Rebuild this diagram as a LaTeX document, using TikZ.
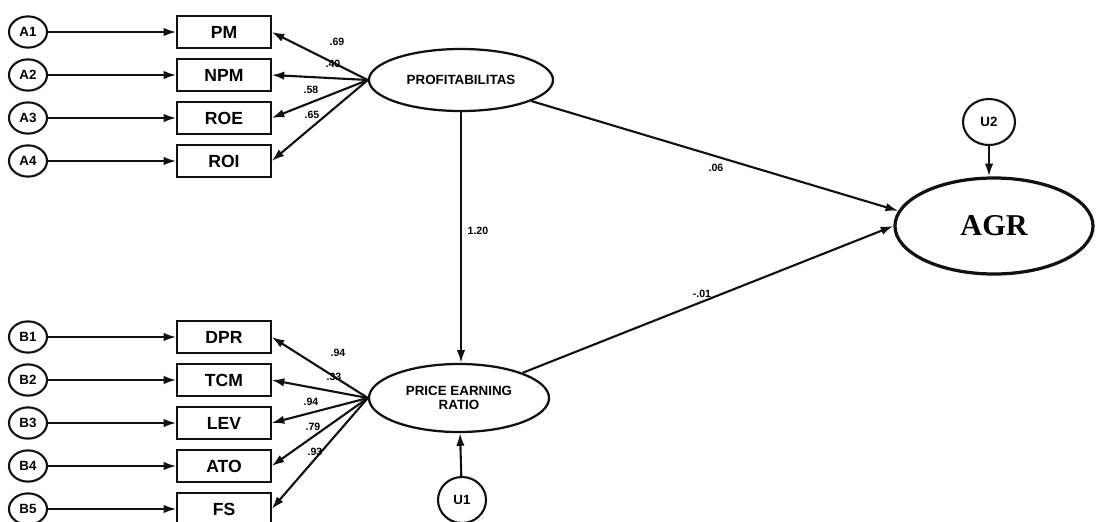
\documentclass[tikz,border=0pt]{standalone}
\usepackage{fontspec}
\setmainfont{Liberation Serif}
\setsansfont{Liberation Sans}
\usepackage{tikz}
\usetikzlibrary{shapes.geometric, arrows.meta, positioning, calc}
\definecolor{inkcol}{HTML}{111111}

\begin{document}
\begin{tikzpicture}[x=0.025cm, y=-0.025cm,
  errterm/.style={ellipse, draw=inkcol, line width=1.5pt, fill=white,
                  minimum width=0.95cm, minimum height=0.78cm, inner sep=0pt,
                  font=\sffamily\bfseries\fontsize{9.5}{11}\selectfont},
  indicator/.style={rectangle, draw=inkcol, line width=1.5pt, fill=white,
                    minimum width=2.33cm, minimum height=0.8cm, inner sep=0pt,
                    font=\sffamily\bfseries\fontsize{12.5}{14}\selectfont},
  latent/.style={ellipse, draw=inkcol, line width=1.6pt, fill=white, inner sep=0pt,
                 align=center, font=\sffamily\bfseries\fontsize{9.5}{9.5}\selectfont},
  coef/.style={font=\sffamily\bfseries\fontsize{7.5}{8}\selectfont, inner sep=1pt},
  arr/.style={-{Latex[length=9pt, width=6pt]}, draw=inkcol, line width=1.5pt},
]
  \useasboundingbox (0,0) rectangle (1096,521);

  % latent variables
  \node[latent, minimum width=4.6cm, minimum height=1.55cm] (prof) at (461,80) {PROFITABILITAS};
  \node[latent, minimum width=4.5cm, minimum height=1.7cm] (per) at (459,398) {PRICE EARNING\\RATIO};
  \node[latent, line width=2.3pt, minimum width=4.95cm, minimum height=2.4cm,
        font=\rmfamily\bfseries\fontsize{21.5}{22}\selectfont] (agr) at (994,226) {AGR};
  \node[errterm, minimum width=1.2cm, minimum height=1.15cm] (u1) at (462,500) {U1};
  \node[errterm, minimum width=1.3cm, minimum height=1.15cm] (u2) at (989,122) {U2};

  % profitabilitas indicators
  \foreach \e/\ind/\txt/\y in {a1/pm/PM/32, a2/npm/NPM/75, a3/roe/ROE/118, a4/roi/ROI/161} {
    \node[indicator] (\ind) at (224,\y) {\txt};
    \node[errterm] (\e) at (28,\y) {\MakeUppercase{\e}};
    \draw[arr] (\e) -- (\ind);
    \draw[arr] (prof.west) -- (\ind.east);
  }

  % price earning ratio indicators
  \foreach \e/\ind/\txt/\y in {b1/dpr/DPR/337, b2/tcm/TCM/380, b3/lev/LEV/423, b4/ato/ATO/466, b5/fs/FS/509} {
    \node[indicator] (\ind) at (224,\y) {\txt};
    \node[errterm] (\e) at (28,\y) {\MakeUppercase{\e}};
    \draw[arr] (\e) -- (\ind);
    \draw[arr] (per.west) -- (\ind.east);
  }

  % loadings
  \foreach \n/\val/\x/\y in {c1/.69/337/42, c2/.40/333/64, c3/.58/311/90, c4/.65/312/115,
                             c5/.94/338/353, c6/.33/334/377, c7/.94/311/402, c8/.79/313/427, c9/.93/315/452} {
    \node[coef] (\n) at (\x,\y) {\val};
  }

  % structural paths
  \draw[arr] (prof.south) -- (prof.south |- per.north);
  \draw[arr] (u1) -- (per);
  \draw[arr] (u2) -- (u2 |- agr.north);
  \draw[arr] (prof) -- (agr.171);
  \draw[arr] (per) -- (agr.west);
  \node[coef, anchor=west] (b120) at (466,231) {1.20};
  \node[coef] (b06) at (716,168) {.06};
  \node[coef] (b01) at (702,294) {-.01};
\end{tikzpicture}
\end{document}
